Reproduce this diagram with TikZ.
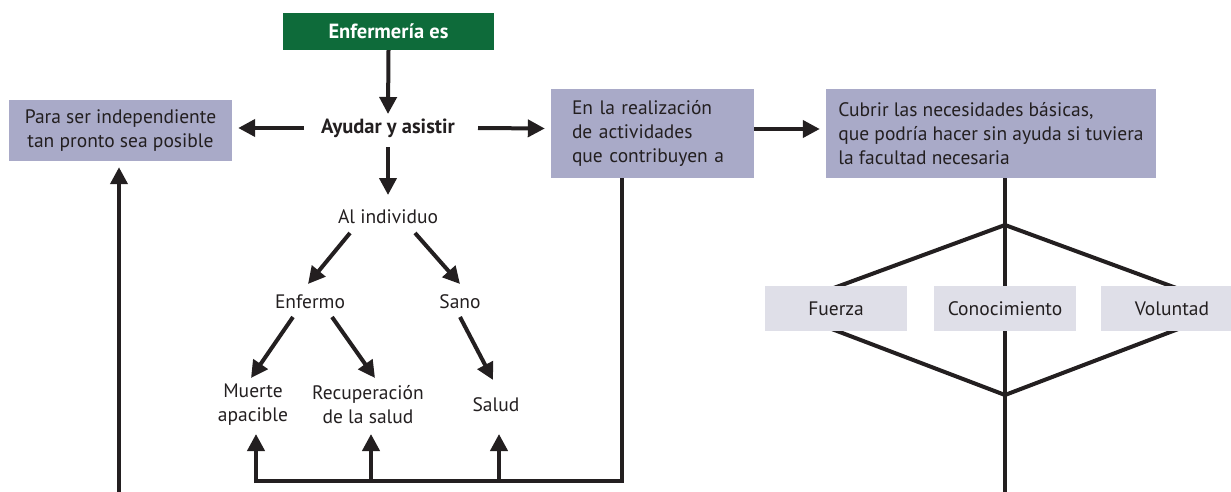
\documentclass[tikz,border=0pt]{standalone}
\usepackage{fontspec}
\setmainfont{PT Sans}
\usetikzlibrary{arrows.meta,backgrounds}
\definecolor{gbox}{HTML}{0E6B3A}
\definecolor{pbox}{HTML}{A9AAC8}
\definecolor{lbox}{HTML}{DFDFE8}
\definecolor{ink}{HTML}{231F20}
\newcommand{\regfont}{\fontsize{19.5}{24}\selectfont}
\newcommand{\boldfont}{\fontsize{20.5}{24}\selectfont\bfseries}
\begin{document}
\begin{tikzpicture}[x=1pt,y=-1pt,
  txt/.style={font=\regfont, text=ink, inner sep=0pt, align=center},
  arr/.style={-{Triangle[length=17pt,width=17pt]}, line width=4pt, draw=ink},
  ln/.style={line width=4pt, draw=ink, line join=miter},
  pboxst/.style={fill=pbox, minimum height=89pt, inner ysep=0pt, text=ink, font=\regfont, align=left},
  lboxst/.style={fill=lbox, minimum width=142pt, minimum height=45pt, inner sep=0pt, text=ink, font=\regfont}]
\useasboundingbox (0,0) rectangle (1231,492);

% boxes
\node[fill=gbox, minimum width=211pt, minimum height=37pt, inner sep=0pt, text=white, font=\boldfont] (green) at (388.5,31.5) {Enfermería es};
\node[fill=pbox, minimum width=223pt, minimum height=61pt, inner sep=0pt, text=ink, font=\regfont, align=center] (para) at (120.5,130.5) {Para ser independiente\\tan pronto sea posible};
\node[pboxst, inner xsep=21pt, text width=161pt] (enla) at (652.5,133.5) {En la realización\\de actividades\\que contribuyen a};
\node[pboxst, inner xsep=0pt, minimum width=330pt] (cubrir) at (991,133.5) {Cubrir las necesidades básicas,\\que podría hacer sin ayuda si tuviera\\la facultad necesaria};

% text nodes
\node[txt, font=\boldfont] (ay) at (388,128) {Ayudar y asistir};
\node[txt] (ind) at (388,217) {Al individuo};
\node[txt] (enf) at (310,302) {Enfermo};
\node[txt] (sano) at (460,302) {Sano};
\node[txt] (muerte) at (253,404.5) {Muerte\\apacible};
\node[txt] (recup) at (368,404.5) {Recuperación\\de la salud};
\node[txt] (salud) at (496,405) {Salud};

% arrows
\draw[arr] (green.south) -- ([shift={(0,-14)}]ay.center);
\draw[arr] ([shift={(0,19)}]ay.center) -- ([shift={(0,-22)}]ind.center);
\draw[arr] ([shift={(-84,0)}]ay.center) -- ([shift={(6,-2.5)}]para.east);
\draw[arr] ([shift={(90,0)}]ay.center) -- ([shift={(-6,-5)}]enla.west);
\draw[arr] ([shift={(0,-4.5)}]enla.east) -- ([shift={(-6,-4.5)}]cubrir.west);
\draw[arr] ([shift={(-38,16)}]ind.center) -- ([shift={(-2,-18)}]enf.center);
\draw[arr] ([shift={(27,16)}]ind.center) -- ([shift={(0,-18)}]sano.center);
\draw[arr] ([shift={(-17,15)}]enf.center) -- ([shift={(-2,-26.5)}]muerte.center);
\draw[arr] ([shift={(22,15)}]enf.center) -- ([shift={(7,-26.5)}]recup.center);
\draw[arr] ([shift={(0,15)}]sano.center) -- ([shift={(-3,-25)}]salud.center);

% long left arrow
\coordinate (bl) at (119,500);
\draw[arr] (bl) -- ([shift={(-1.5,6)}]para.south);

% bottom feedback line
\coordinate (c1) at (622,481);
\coordinate (b1) at (256,481);
\coordinate (b2) at (371,481);
\coordinate (b3) at (499,481);
\draw[ln] (enla.south -| c1) -- (c1) -- ([shift={(-2,0)}]b1);
\draw[arr] ([shift={(0,2)}]b1) -- ++(0,-49);
\draw[arr] (b2) -- ++(0,-47);
\draw[arr] (b3) -- ++(0,-47);

% diamond
\coordinate (dt) at (1005,225);
\coordinate (db) at (1005,395);
\coordinate (dl) at (778,308.5);
\coordinate (dr) at (1232,308.5);
\coordinate (dend) at (1005,500);
\draw[ln] (cubrir.south -| dt) -- (dt);
\draw[ln] (dt) -- (dl) -- (db) -- (dr) -- cycle;
\draw[ln] (dt) -- (db) -- (dend);

\node[lboxst] (fuerza) at (836,308.5) {Fuerza};
\node[lboxst] (cono) at (1005,308.5) {Conocimiento};
\node[lboxst] (vol) at (1172,308.5) {Voluntad};
\end{tikzpicture}
\end{document}
